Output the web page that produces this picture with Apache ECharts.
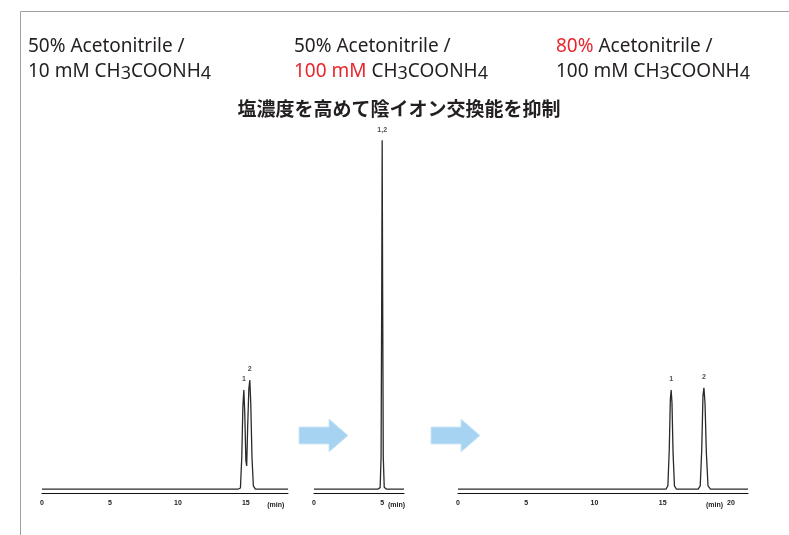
<!DOCTYPE html>
<html>
<head>
<meta charset="utf-8">
<script src="https://cdn.jsdelivr.net/npm/echarts@6/dist/echarts.min.js"></script>
<style>
  html, body { margin: 0; padding: 0; background: #fff; }
  #chart { width: 789px; height: 535px; }
</style>
</head>
<body>
<div id="chart"></div>
<script>
// Retention time (min) / detector response traces for three mobile phase conditions
const trace1 = [
  [0, 1.1], [14.45, 1.1], [14.6, 1.4], [14.7, 10], [14.78, 24], [14.85, 28.6],
  [14.92, 22], [15.0, 9], [15.06, 7.5], [15.13, 18], [15.22, 29], [15.29, 31.4],
  [15.36, 25], [15.45, 10], [15.55, 2], [15.7, 1.1], [18.1, 1.1]
];
const trace2 = [
  [0, 1.1], [4.7, 1.1], [4.85, 1.5], [4.92, 10], [4.97, 60], [5.0, 98],
  [5.03, 60], [5.08, 10], [5.15, 1.6], [5.3, 1.1], [6.6, 1.1]
];
const trace3 = [
  [0, 1.1], [15.25, 1.1], [15.38, 2], [15.48, 12], [15.56, 26], [15.62, 28.6],
  [15.68, 25], [15.76, 11], [15.86, 2], [16.0, 1.1], [17.6, 1.1], [17.75, 2],
  [17.86, 12], [17.95, 27], [18.02, 29.2], [18.1, 25], [18.2, 11], [18.32, 2],
  [18.5, 1.1], [21.25, 1.1]
];

// Peak identification labels: [time, height, name]
const peaks1 = [[14.85, 28.6, '1'], [15.29, 31.4, '2']];
const peaks2 = [[5.0, 98, '1,2']];
const peaks3 = [[15.62, 28.6, '1'], [18.02, 29.2, '2']];

// Axis extents (min) and where the unit label sits
const axisMax = [18.1, 6.6, 21.25];
const unitAt = [17.2, 6.05, 18.8];
const unitText = '(min)';

// Mobile phase captions: [style, text] fragments
const conditions = [
  { line1: [['n', '50% Acetonitrile /']],
    line2: [['n', '10 mM CH'], ['sub', '3'], ['n', 'COONH'], ['sub', '4']] },
  { line1: [['n', '50% Acetonitrile /']],
    line2: [['red', '100 mM '], ['n', 'CH'], ['sub', '3'], ['n', 'COONH'], ['sub', '4']] },
  { line1: [['red', '80% '], ['n', 'Acetonitrile /']],
    line2: [['n', '100 mM CH'], ['sub', '3'], ['n', 'COONH'], ['sub', '4']] }
];
const headline = '塩濃度を高めて陰イオン交換能を抑制';

const chart = echarts.init(document.getElementById('chart'));

const grids = [
  { left: 42, top: 133, width: 246, height: 360 },
  { left: 314, top: 133, width: 90, height: 360 },
  { left: 458, top: 133, width: 290, height: 360 }
];

const traces = [trace1, trace2, trace3];
const peakSets = [peaks1, peaks2, peaks3];

const xAxes = grids.map((g, i) => ({
  type: 'value', gridIndex: i, min: 0, max: axisMax[i], interval: 5,
  axisLine: { lineStyle: { color: '#111', width: 1 } },
  axisTick: { show: false },
  splitLine: { show: false },
  axisLabel: {
    fontSize: 7, fontWeight: 'bold', color: '#222', margin: 7,
    fontFamily: 'Liberation Sans',
    formatter: v => (Math.abs(v % 5) < 1e-9 ? String(v) : '')
  }
}));
const yAxes = grids.map((g, i) => ({
  type: 'value', gridIndex: i, min: 0, max: 100, show: false
}));

const series = [];
traces.forEach((t, i) => {
  series.push({
    type: 'line', xAxisIndex: i, yAxisIndex: i, data: t,
    showSymbol: false, silent: true, animation: false,
    lineStyle: { color: '#2a2a2a', width: 1.3 }
  });
  series.push({
    type: 'scatter', xAxisIndex: i, yAxisIndex: i, symbolSize: 0.1,
    animation: false, silent: true,
    data: peakSets[i].map(p => ({ value: [p[0], p[1]], name: p[2] })),
    label: {
      show: true, position: 'top', distance: 7, formatter: '{b}',
      fontSize: 7, fontWeight: 'bold', color: '#222', fontFamily: 'Liberation Sans'
    }
  });
});

chart.setOption({
  animation: false,
  grid: grids,
  xAxis: xAxes,
  yAxis: yAxes,
  series: series
});

function richLine(parts) {
  return parts.map(p => '{' + p[0] + '|' + p[1] + '}').join('');
}
const richStyles = {
  n: { fontSize: 19, fill: '#231f20', fontFamily: 'Noto Sans', lineHeight: 24 },
  red: { fontSize: 19, fill: '#e8262c', fontFamily: 'Noto Sans', lineHeight: 24 },
  sub: { fontSize: 18, fill: '#231f20', fontFamily: 'Noto Sans', lineHeight: 24, padding: [4, 0, 0, 0] }
};
const colX = [28, 294, 556];

const graphics = [
  {
    type: 'rect', shape: { x: 20.5, y: 11.5, width: 900, height: 700 },
    style: { fill: 'none', stroke: '#a0a0a0', lineWidth: 1 }, silent: true
  },
  {
    type: 'text', x: 399, y: 109,
    style: {
      text: headline, font: 'bold 19px "Noto Sans CJK JP"', fill: '#231f20',
      textAlign: 'center', textVerticalAlign: 'middle'
    }
  }
];
conditions.forEach((c, i) => {
  graphics.push({
    type: 'text', x: colX[i], y: 47,
    style: { text: richLine(c.line1), rich: richStyles, textVerticalAlign: 'middle' }
  });
  graphics.push({
    type: 'text', x: colX[i], y: 72,
    style: { text: richLine(c.line2), rich: richStyles, textVerticalAlign: 'middle' }
  });
});

// Light blue arrows between the chromatograms
function arrow(x0) {
  return {
    type: 'polygon',
    shape: {
      points: [
        [x0, 427], [x0 + 30, 427], [x0 + 30, 419], [x0 + 49, 435.5],
        [x0 + 30, 452], [x0 + 30, 444], [x0, 444]
      ]
    },
    style: { fill: '#a6d3f1', stroke: '#cde7f8', lineWidth: 1 },
    silent: true
  };
}
graphics.push(arrow(299));
graphics.push(arrow(431));

// Unit label placed along each time axis
unitAt.forEach((v, i) => {
  const p = chart.convertToPixel({ xAxisIndex: i, yAxisIndex: i }, [v, 0]);
  graphics.push({
    type: 'text', x: p[0], y: p[1] + 12,
    style: {
      text: unitText, font: 'bold 7px "Liberation Sans"', fill: '#222',
      textAlign: 'center', textVerticalAlign: 'middle'
    }
  });
});

chart.setOption({ graphic: graphics });
</script>
</body>
</html>
